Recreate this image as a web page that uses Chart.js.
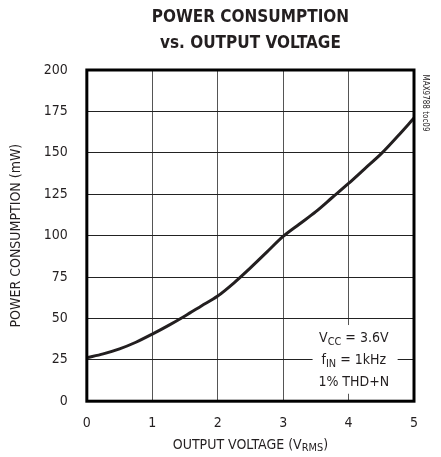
<!DOCTYPE html>
<html>
<head>
<meta charset="utf-8">
<script src="https://cdn.jsdelivr.net/npm/chart.js@4"></script>
<style>
  html, body { margin: 0; padding: 0; background: #fff; }
  #wrap { width: 441px; height: 457px; }
</style>
</head>
<body>
<div id="wrap"><canvas id="consumoGrafico"></canvas></div>
<script>
// Dados
const tensaoSaida = [0, 0.25, 0.5, 0.75, 1, 1.25, 1.5, 1.75, 2, 2.25, 2.5, 2.75, 3, 3.25, 3.5, 3.75, 4, 4.25, 4.5, 4.75, 5];
const consumoMW = [26.3, 28.6, 31.6, 35.6, 40.5, 45.8, 51.5, 57.5, 63.5, 71.5, 80.5, 90, 99.5, 107, 114.5, 123, 131.5, 140.5, 149.5, 160, 171];
const ticksX = [0, 1, 2, 3, 4, 5];
const ticksY = [0, 25, 50, 75, 100, 125, 150, 175, 200];
const titulo = ['POWER CONSUMPTION', 'vs. OUTPUT VOLTAGE'];
const notas = ['V|CC| = 3.6V', 'f|IN| = 1kHz', '1% THD+N'];

const FONTE = "'DejaVu Sans Condensed', 'Liberation Sans Narrow', sans-serif";
const COR_TEXTO = '#231f20';

// desenha texto com subscrito: partes separadas por |
function textoSub(c, txt, x, y, tam) {
    const partes = txt.split('|');
    let largura = 0;
    partes.forEach((p, i) => {
        c.font = (i % 2 ? tam * 0.78 : tam) + 'px ' + FONTE;
        largura += c.measureText(p).width;
    });
    let cx = x - largura / 2;
    c.textAlign = 'left';
    partes.forEach((p, i) => {
        const sub = i % 2 === 1;
        c.font = (sub ? tam * 0.78 : tam) + 'px ' + FONTE;
        c.fillText(p, cx, sub ? y + tam * 0.22 : y);
        cx += c.measureText(p).width;
    });
    return largura;
}

const extras = {
    id: 'extras',
    beforeDatasetsDraw(chart) {
        const c = chart.ctx;
        const sx = chart.scales.x, sy = chart.scales.y;
        // caixa branca atrás das notas
        c.save();
        c.fillStyle = '#fff';
        const x0 = sx.getPixelForValue(3.45), x1 = sx.getPixelForValue(4.75);
        const y0 = sy.getPixelForValue(46), y1 = sy.getPixelForValue(4.5);
        c.fillRect(x0, y0, x1 - x0, y1 - y0);
        c.restore();
    },
    afterDraw(chart) {
        const c = chart.ctx;
        const a = chart.chartArea;
        const sx = chart.scales.x, sy = chart.scales.y;
        c.save();
        // moldura grossa
        c.strokeStyle = '#000';
        c.lineWidth = 3;
        c.strokeRect(a.left, a.top, a.right - a.left, a.bottom - a.top);

        c.fillStyle = COR_TEXTO;
        c.textBaseline = 'middle';
        // título
        c.textAlign = 'center';
        c.font = 'bold 17px ' + FONTE;
        const meio = (a.left + a.right) / 2;
        c.fillText(titulo[0], meio, 18);
        c.fillText(titulo[1], meio, 44);

        // notas
        const nx = sx.getPixelForValue(4.08);
        notas.forEach((n, i) => textoSub(c, n, nx, sy.getPixelForValue(37.8 - i * 13.3), 14));

        // título do eixo X
        textoSub(c, 'OUTPUT VOLTAGE (V|RMS|)', meio, 445, 14);

        // código lateral
        c.translate(425, 103);
        c.rotate(Math.PI / 2);
        c.textAlign = 'center';
        c.font = '8px ' + FONTE;
        c.fillText('MAX9788 toc09', 0, 0);
        c.restore();
    }
};

const ctx = document.getElementById('consumoGrafico').getContext('2d');
let consumoGrafico = new Chart(ctx, {
    type: 'scatter',
    data: {
        datasets: [{
            data: tensaoSaida.map((v, i) => ({ x: v, y: consumoMW[i] })),
            showLine: true,
            borderColor: COR_TEXTO,
            borderWidth: 3,
            pointRadius: 0,
            tension: 0.4,
            cubicInterpolationMode: 'monotone'
        }]
    },
    options: {
        responsive: true,
        maintainAspectRatio: false,
        animation: false,
        layout: { padding: { top: 70, right: 27, bottom: 11, left: 8 } },
        scales: {
            x: {
                type: 'linear',
                min: 0, max: 5,
                afterBuildTicks: ax => { ax.ticks = ticksX.map(v => ({ value: v })); },
                grid: { color: '#555', lineWidth: 1, drawTicks: false },
                border: { display: false },
                ticks: { padding: 14, color: COR_TEXTO, font: { family: FONTE, size: 14 } }
            },
            y: {
                min: 0, max: 200,
                afterBuildTicks: ax => { ax.ticks = ticksY.map(v => ({ value: v })); },
                grid: { color: '#222', lineWidth: 1, drawTicks: false },
                border: { display: false },
                ticks: { padding: 19, color: COR_TEXTO, font: { family: FONTE, size: 14 } },
                title: {
                    display: true,
                    text: 'POWER CONSUMPTION (mW)',
                    color: COR_TEXTO,
                    font: { family: FONTE, size: 14 },
                    padding: { top: 0, bottom: 0 }
                }
            }
        },
        plugins: {
            legend: { display: false },
            tooltip: { enabled: false }
        }
    },
    plugins: [extras]
});
</script>
</body>
</html>
